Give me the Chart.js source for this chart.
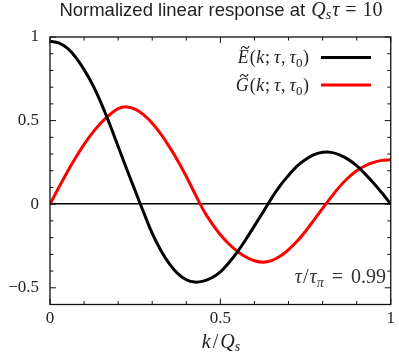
<!DOCTYPE html>
<html>
<head>
<meta charset="utf-8">
<script src="https://cdn.jsdelivr.net/npm/chart.js@4.4.1/dist/chart.umd.min.js"></script>
<style>body{margin:0;background:#fff}</style>
</head>
<body>
<canvas id="my_chart" width="399" height="362"></canvas>
<script>
// values
var k_values = [0, 0.025, 0.05, 0.075, 0.1, 0.125, 0.15, 0.175, 0.2, 0.225, 0.25, 0.275, 0.3, 0.325, 0.35, 0.375, 0.4, 0.425, 0.45, 0.475,
  0.5, 0.525, 0.55, 0.575, 0.6, 0.625, 0.65, 0.675, 0.7, 0.725, 0.75, 0.775, 0.8, 0.825, 0.85, 0.875, 0.9, 0.925, 0.95, 0.975, 1]
var e_values = [0.975, 0.965, 0.935, 0.88, 0.805, 0.715, 0.605, 0.48, 0.345, 0.21, 0.08, -0.05, -0.175, -0.275, -0.355, -0.415, -0.452, -0.466, -0.46, -0.44,
  -0.405, -0.35, -0.285, -0.21, -0.13, -0.048, 0.035, 0.11, 0.172, 0.228, 0.268, 0.296, 0.31, 0.31, 0.295, 0.268, 0.23, 0.18, 0.125, 0.065, 0.0]
var g_values = [0, 0.097, 0.19, 0.278, 0.358, 0.428, 0.487, 0.535, 0.572, 0.582, 0.568, 0.534, 0.484, 0.42, 0.344, 0.26, 0.166, 0.064, -0.035, -0.115,
  -0.183, -0.238, -0.282, -0.316, -0.338, -0.347, -0.338, -0.312, -0.272, -0.222, -0.162, -0.094, -0.025, 0.042, 0.105, 0.158, 0.2, 0.23, 0.25, 0.262, 0.266]
var x_ticks = [0, 0.5, 1]
var y_ticks = [-0.5, 0, 0.5, 1]

var SERIF = '"Liberation Serif", serif'
var IT = 'italic 18px ' + SERIF
var UP = '18px ' + SERIF
var SUB = '13px ' + SERIF
var IT2 = 'italic 20px ' + SERIF
var UP2 = '20px ' + SERIF
var SUBIT2 = 'italic 14px ' + SERIF

// parts: [text, font, dy, tilde, extra gap after]
function draw_rich(ctx, parts, x, y, align) {
  var total = 0
  parts.forEach(p => { ctx.font = p[1]; total += ctx.measureText(p[0]).width + (p[4] || 0) })
  var cx = align == 'right' ? x - total : (align == 'center' ? x - total / 2 : x)
  ctx.textAlign = 'left'
  ctx.textBaseline = 'alphabetic'
  parts.forEach(p => {
    ctx.font = p[1]
    var w = ctx.measureText(p[0]).width
    ctx.fillText(p[0], cx, y + (p[2] || 0))
    if (p[3]) {
      // tilde accent over the letter
      var tx = cx + w / 2 + 2, ty = y - 15.5
      ctx.save()
      ctx.lineWidth = 1.1
      ctx.strokeStyle = ctx.fillStyle
      ctx.beginPath()
      ctx.moveTo(tx - 4, ty + 1.5)
      ctx.bezierCurveTo(tx - 2.5, ty - 2, tx - 1, ty - 1, tx, ty)
      ctx.bezierCurveTo(tx + 1, ty + 1, tx + 2.5, ty + 2, tx + 4, ty - 1.5)
      ctx.stroke()
      ctx.restore()
    }
    cx += w + (p[4] || 0)
  })
}

function legend_parts(letter) {
  return [[letter, IT, 0, true, 1], ['(', UP, 0, false, 0.5], ['k', IT, 0, false, 1], [';', UP, 0, false, 4], ['τ', IT, 0, false, 0.5], [',', UP, 0, false, 4], ['τ', IT], ['0', SUB, 4, false, 0.5], [')', UP]]
}

var decor_plugin = {
  id: 'decor',
  afterDatasetsDraw(chart) {
    var ctx = chart.ctx, a = chart.chartArea
    var xs = chart.scales.x, ys = chart.scales.y
    ctx.save()
    // frame
    ctx.strokeStyle = '#111'
    ctx.lineWidth = 1.3
    ctx.strokeRect(a.left, a.top, a.right - a.left, a.bottom - a.top)
    // inward ticks on all sides
    ctx.lineWidth = 1
    for (var i = 0; i <= 10; i++) {
      var px = xs.getPixelForValue(i / 10)
      var len = (i % 5 == 0) ? 6 : 3.5
      ctx.beginPath()
      ctx.moveTo(px, a.bottom); ctx.lineTo(px, a.bottom - len)
      ctx.moveTo(px, a.top); ctx.lineTo(px, a.top + len)
      ctx.stroke()
    }
    for (var j = -6; j <= 10; j++) {
      var py = ys.getPixelForValue(j / 10)
      var len2 = (j % 5 == 0) ? 6 : 3.5
      ctx.beginPath()
      ctx.moveTo(a.left, py); ctx.lineTo(a.left + len2, py)
      ctx.moveTo(a.right, py); ctx.lineTo(a.right - len2, py)
      ctx.stroke()
    }
    // legend
    ctx.fillStyle = '#222'
    draw_rich(ctx, legend_parts('E'), 309, 63, 'right')
    draw_rich(ctx, legend_parts('G'), 309, 91, 'right')
    ctx.lineWidth = 3
    ctx.strokeStyle = '#000'
    ctx.beginPath(); ctx.moveTo(321, 57.5); ctx.lineTo(371, 57.5); ctx.stroke()
    ctx.strokeStyle = '#ff0000'
    ctx.beginPath(); ctx.moveTo(321, 85); ctx.lineTo(371, 85); ctx.stroke()
    // annotation
    ctx.fillStyle = '#333'
    draw_rich(ctx, [['τ', IT2, 0, false, 1], ['/', UP2, 0, false, 1], ['τ', IT2], ['π', SUBIT2, 4, false, 8], ['=', UP2, 0, false, 8], ['0.99', UP2]], 386, 283, 'right')
    // title
    ctx.fillStyle = '#222'
    draw_rich(ctx, [['Normalized linear response at ', '18.5px "Liberation Sans", Arial, sans-serif', 0, false, 1], ['Q', IT2], ['s', SUBIT2, 3, false, 1], ['τ', IT2, 0, false, 6], ['=', UP2, 0, false, 6], ['10', UP2]], 221, 16, 'center')
    // x axis title
    draw_rich(ctx, [['k', IT2, 0, false, 2], ['/', UP2, 0, false, 2], ['Q', IT2], ['s', SUBIT2, 3]], 221, 348, 'center')
    ctx.restore()
  }
}

var ctx = document.getElementById('my_chart')
var my_chart = new Chart(ctx, {
  type: 'line',
  data: {
    datasets: [
      {
        label: 'E',
        data: k_values.map((k, i) => ({x: k, y: e_values[i]})),
        borderColor: '#000',
        borderWidth: 3,
        pointRadius: 0,
        tension: 0.4,
        fill: false
      },
      {
        label: 'G',
        data: k_values.map((k, i) => ({x: k, y: g_values[i]})),
        borderColor: '#ff0000',
        borderWidth: 3,
        pointRadius: 0,
        tension: 0.4,
        fill: false
      }
    ]
  },
  options: {
    responsive: false,
    animation: false,
    layout: {padding: {top: 37, right: 6, left: 0, bottom: 0}},
    plugins: {legend: {display: false}, title: {display: false}, tooltip: {enabled: false}},
    scales: {
      x: {
        type: 'linear', min: 0, max: 1,
        afterBuildTicks: s => { s.ticks = x_ticks.map(v => ({value: v})) },
        afterFit: s => { s.height = 57.5 },
        grid: {display: false, drawTicks: false},
        border: {display: false},
        ticks: {color: '#222', font: {family: 'Liberation Serif', size: 17}, padding: 4, maxRotation: 0,
          callback: v => String(v)}
      },
      y: {
        type: 'linear', min: -0.6, max: 1,
        afterBuildTicks: s => { s.ticks = y_ticks.map(v => ({value: v})) },
        afterFit: s => { s.width = 50 },
        grid: {drawTicks: false, lineWidth: 1.4, color: c => c.tick && c.tick.value === 0 ? '#000' : 'rgba(0,0,0,0)'},
        border: {display: false},
        ticks: {color: '#222', font: {family: 'Liberation Serif', size: 17}, padding: 11,
          callback: v => v < 0 ? '\u2212' + String(-v) : String(v)}
      }
    }
  },
  plugins: [decor_plugin]
})
</script>
</body>
</html>
